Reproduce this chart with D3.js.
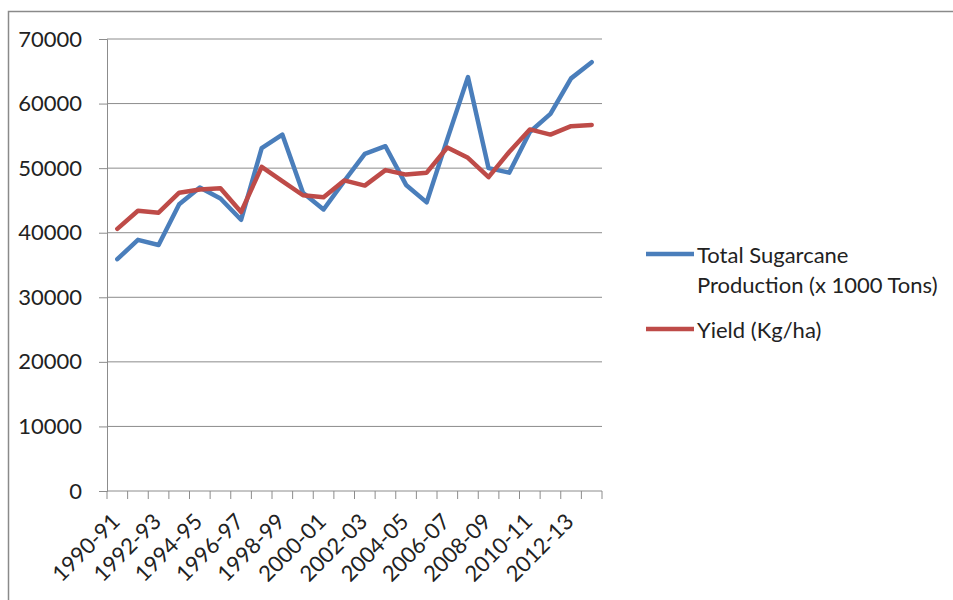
<!DOCTYPE html>
<html>
<head>
<meta charset="utf-8">
<script src="https://cdn.jsdelivr.net/npm/d3@7"></script>
<style>
  html, body { margin: 0; padding: 0; background: #fff; }
  svg { display: block; }
  text { font-family: "Lato", "Open Sans", sans-serif; fill: #222; }
</style>
</head>
<body>
<svg id="chart" width="953" height="600"></svg>
<script>
// Sugarcane seasons
const seasons = ["1990-91","1991-92","1992-93","1993-94","1994-95","1995-96","1996-97","1997-98",
  "1998-99","1999-00","2000-01","2001-02","2002-03","2003-04","2004-05","2005-06","2006-07",
  "2007-08","2008-09","2009-10","2010-11","2011-12","2012-13","2013-14"];

// Total Sugarcane Production (x 1000 Tons)
const production = [35900, 38900, 38100, 44400, 47000, 45300, 42000, 53100, 55200, 46200,
  43600, 48000, 52200, 53400, 47400, 44700, 54500, 64100, 50000, 49300, 55600, 58400, 63900, 66400];

// Yield (Kg/ha)
const yieldKgHa = [40600, 43400, 43100, 46200, 46700, 46900, 43200, 50200, 48000, 45800,
  45500, 48100, 47300, 49700, 49000, 49300, 53200, 51600, 48600, 52500, 56000, 55200, 56500, 56700];

const yTicks = [0, 10000, 20000, 30000, 40000, 50000, 60000, 70000];

const seriesNames = ["Total Sugarcane Production (x 1000 Tons)", "Yield (Kg/ha)"];
const seriesColors = ["#4a7ebb", "#be4b48"];

const fontSize = "22px";
const svg = d3.select("#chart");
const plot = { left: 107, right: 602, top: 39, bottom: 491 };

// outer frame
svg.append("path")
  .attr("d", "M8.5,600 V11.5 H953")
  .attr("fill", "none").attr("stroke", "#8a8a8a").attr("stroke-width", 1.5);

const x = d3.scaleBand().domain(seasons).range([plot.left, plot.right]);
const y = d3.scaleLinear().domain([0, 70000]).range([plot.bottom, plot.top]);

// horizontal gridlines
svg.append("g").selectAll("line").data(yTicks.filter(d => d > 0)).join("line")
  .attr("x1", plot.left).attr("x2", plot.right)
  .attr("y1", d => y(d)).attr("y2", d => y(d))
  .attr("stroke", "#8c8c8c").attr("stroke-width", 1);

// y axis
const yAxis = svg.append("g").attr("transform", `translate(${plot.left},0)`)
  .call(d3.axisLeft(y).tickValues(yTicks).tickSize(8).tickPadding(17).tickFormat(d3.format("d")));
yAxis.select(".domain").attr("stroke", "#8c8c8c");
yAxis.selectAll(".tick line").attr("stroke", "#8c8c8c");
yAxis.selectAll("text").style("font-size", fontSize).attr("fill", "#222");

// x axis with ticks at category boundaries
const xAxisG = svg.append("g").attr("transform", `translate(0,${plot.bottom})`);
xAxisG.append("line").attr("x1", plot.left).attr("x2", plot.right)
  .attr("stroke", "#8c8c8c");
const boundaries = seasons.map(s => x(s)).concat([x.range()[1]]);
xAxisG.selectAll("line.tk").data(boundaries).join("line").attr("class", "tk")
  .attr("x1", d => d).attr("x2", d => d).attr("y1", 0).attr("y2", 8)
  .attr("stroke", "#8c8c8c");
xAxisG.selectAll("text").data(seasons.filter((d, i) => i % 2 === 0)).join("text")
  .attr("transform", d => `translate(${x(d) + x.bandwidth() / 2 + 4},${32}) rotate(-45)`)
  .attr("text-anchor", "end")
  .style("font-size", fontSize)
  .text(d => d);

// series lines
const line = d3.line().x((d, i) => x(seasons[i]) + x.bandwidth() / 2).y(d => y(d));
[production, yieldKgHa].forEach((vals, k) => {
  svg.append("path").datum(vals)
    .attr("d", line)
    .attr("fill", "none")
    .attr("stroke", seriesColors[k])
    .attr("stroke-width", 4.5)
    .attr("stroke-linejoin", "round")
    .attr("stroke-linecap", "round");
});

// legend
const legend = svg.append("g");
const legendRows = [
  { lines: ["Total Sugarcane", "Production (x 1000 Tons)"], y: 254, color: seriesColors[0] },
  { lines: ["Yield (Kg/ha)"], y: 329, color: seriesColors[1] }
];
legendRows.forEach(r => {
  legend.append("line").attr("x1", 646).attr("x2", 694).attr("y1", r.y).attr("y2", r.y)
    .attr("stroke", r.color).attr("stroke-width", 4.5);
  const t = legend.append("text").attr("x", 697).attr("y", r.y + 8.5).style("font-size", fontSize);
  r.lines.forEach((s, i) => t.append("tspan").attr("x", 697).attr("dy", i === 0 ? 0 : 30).text(s));
});
</script>
</body>
</html>
